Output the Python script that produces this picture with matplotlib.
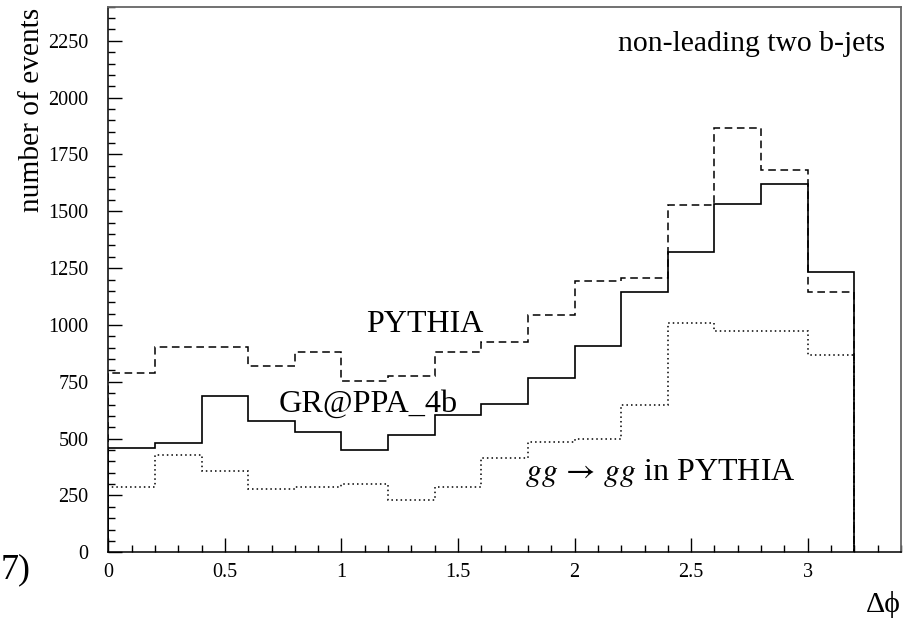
import matplotlib
matplotlib.use("Agg")
import matplotlib.pyplot as plt
import numpy as np
from matplotlib.ticker import MultipleLocator

plt.rcParams['font.family'] = ['Liberation Serif', 'DejaVu Serif']
plt.rcParams['mathtext.fontset'] = 'stix'

# Data: delta-phi bins (0 to 3.2, width 0.2)
bin_edges = [0.0, 0.2, 0.4, 0.6, 0.8, 1.0, 1.2, 1.4, 1.6, 1.8, 2.0,
             2.2, 2.4, 2.6, 2.8, 3.0, 3.2]
grappa_4b = [458, 480, 688, 577, 528, 449, 518, 606, 651, 766, 908,
             1146, 1320, 1533, 1621, 1231]
pythia = [789, 904, 904, 821, 880, 755, 776, 880, 927, 1044, 1194,
          1207, 1526, 1868, 1680, 1147]
gg_pythia = [289, 428, 358, 279, 287, 301, 230, 289, 416, 487, 500,
             648, 1008, 974, 974, 868]

fig = plt.figure(figsize=(9.04, 6.18), dpi=100)
ax = fig.add_axes([108.3/904, 1-552.3/618, (901-108.3)/904, (552.3-6.7)/618])

ax.stairs(pythia, bin_edges, baseline=0, color='black', lw=1.1,
          linestyle=(0, (5, 3)))
ax.stairs(gg_pythia, bin_edges, baseline=0, color='black', lw=1.1,
          linestyle=(0, (1, 2)))
ax.stairs(grappa_4b, bin_edges, baseline=0, color='black', lw=1.2)

ax.set_xlim(0, 3.4)
ax.set_ylim(0, 2400)
ax.xaxis.set_major_locator(MultipleLocator(0.5))
ax.xaxis.set_minor_locator(MultipleLocator(0.1))
ax.yaxis.set_major_locator(MultipleLocator(250))
ax.yaxis.set_minor_locator(MultipleLocator(50))
ax.set_xticks([0, 0.5, 1, 1.5, 2, 2.5, 3])
ax.set_xticklabels(['0', '0.5', '1', '1.5', '2', '2.5', '3'])
ax.tick_params(which='both', direction='in', top=False, right=False, width=1.0)
ax.tick_params(which='major', length=14.5/1.389)
ax.tick_params(which='minor', length=7.3/1.389)
ax.tick_params(axis='y', which='major', labelsize=14.5, pad=14.4)
ax.tick_params(axis='x', which='major', labelsize=14.5, pad=7.9)

for s in ['left', 'bottom']:
    ax.spines[s].set_linewidth(1.1)
    ax.spines[s].set_color('black')
for s in ['top', 'right']:
    ax.spines[s].set_linewidth(1.3)
    ax.spines[s].set_color('0.4')

ax.set_ylabel('number of events', fontsize=21.2)
ax.yaxis.set_label_coords(-0.080, 1 - (110 - 6.7) / 545.6)

ax.text(3.332, 2203, 'non-leading two b-jets', fontsize=21.3,
        ha='right', va='baseline')
ax.text(1.106, 971, 'PYTHIA', fontsize=23, ha='left', va='baseline')
ax.text(0.73, 619, 'GR@PPA_4b', fontsize=23.2, ha='left', va='baseline')
ax.text(1.788, 318, r'$gg \,\rightarrow\, gg$ in PYTHIA', fontsize=23,
        ha='left', va='baseline')

fig.text(901/904, 6/618, 'Δϕ', fontsize=21.5, ha='right', va='baseline')
fig.text(0.5/904, 1 - 578.3/618, '7)', fontsize=26, ha='left', va='baseline')

fig.savefig('out.png', dpi=100)
